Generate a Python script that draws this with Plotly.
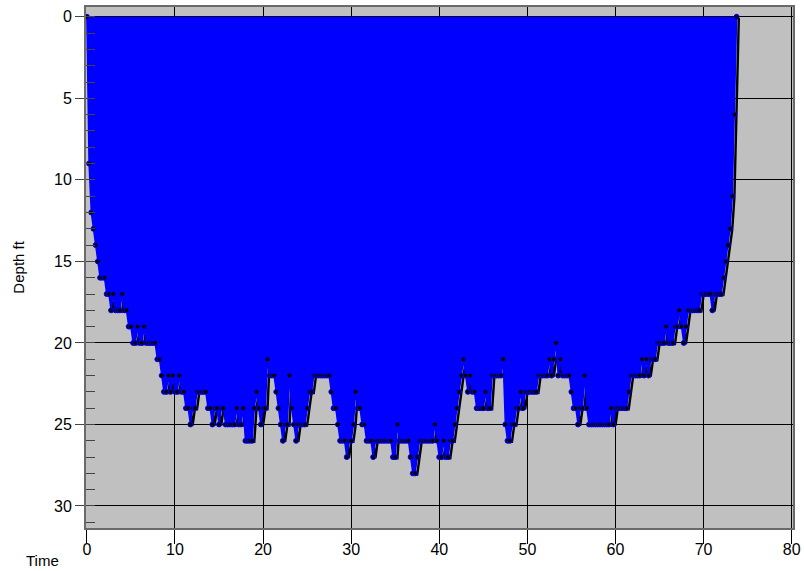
import plotly.graph_objects as go

START_MIN = 0.0
SAMPLE_INTERVAL_MIN = 0.25
depth_ft = [
    0, 9, 12, 13,
    14, 15, 16, 16,
    16, 17, 17, 18,
    17, 18, 18, 18,
    17, 18, 18, 19,
    19, 20, 20, 19,
    20, 20, 19, 20,
    20, 20, 20, 20,
    21, 21, 22, 23,
    23, 22, 23, 22,
    23, 23, 22, 23,
    23, 24, 24, 25,
    24, 24, 23, 23,
    23, 23, 23, 24,
    24, 25, 24, 24,
    25, 24, 24, 25,
    25, 25, 25, 25,
    24, 25, 25, 24,
    26, 26, 26, 26,
    24, 23, 24, 25,
    24, 24, 21, 22,
    22, 22, 23, 24,
    25, 26, 25, 25,
    22, 24, 25, 26,
    25, 25, 25, 25,
    24, 23, 23, 22,
    22, 22, 22, 22,
    22, 22, 22, 23,
    24, 24, 25, 26,
    26, 26, 27, 26,
    26, 25, 23, 24,
    24, 25, 25, 26,
    26, 26, 27, 26,
    26, 26, 26, 26,
    26, 26, 26, 27,
    27, 25, 26, 26,
    26, 26, 26, 27,
    28, 28, 27, 26,
    26, 26, 26, 26,
    26, 26, 25, 26,
    27, 27, 26, 27,
    27, 26, 26, 25,
    24, 23, 22, 21,
    22, 23, 22, 23,
    23, 24, 24, 24,
    24, 23, 24, 24,
    22, 22, 22, 22,
    22, 21, 25, 26,
    26, 25, 25, 24,
    24, 23, 24, 23,
    23, 23, 23, 23,
    23, 22, 22, 22,
    22, 22, 21, 22,
    21, 20, 22, 21,
    22, 22, 22, 22,
    23, 24, 24, 25,
    24, 24, 22, 24,
    25, 25, 25, 25,
    25, 25, 25, 25,
    25, 25, 24, 25,
    24, 24, 24, 24,
    24, 24, 23, 22,
    22, 22, 22, 22,
    21, 22, 21, 22,
    21, 21, 21, 20,
    20, 20, 20, 19,
    20, 20, 20, 19,
    19, 18, 19, 20,
    19, 18, 18, 18,
    18, 18, 18, 17,
    17, 17, 17, 17,
    18, 17, 17, 17,
    17, 16, 15, 14,
    13, 11, 6, 0,
]

x_tick_vals = [0, 10, 20, 30, 40, 50, 60, 70, 80]
y_tick_vals = [0, 5, 10, 15, 20, 25, 30]

X_RANGE = [-0.1, 80.15]
Y_RANGE = [31.35, -0.6]
SHADOW_DX = 0.25   # minutes (style offset of the drop shadow)
SHADOW_DY = 0.07   # feet   (style offset of the drop shadow)

BLUE = "#0000FF"
FONT = "Liberation Sans, Arial, sans-serif"

fig = go.Figure()

# black drop-shadow of the profile line
fig.add_trace(go.Scatter(
    y=[d + SHADOW_DY for d in depth_ft],
    x0=START_MIN + SHADOW_DX, dx=SAMPLE_INTERVAL_MIN,
    mode="lines", line=dict(color="black", width=2.4),
    hoverinfo="skip", showlegend=False,
))

# blue filled profile with sample markers
fig.add_trace(go.Scatter(
    y=depth_ft, x0=START_MIN, dx=SAMPLE_INTERVAL_MIN,
    mode="lines+markers",
    line=dict(color=BLUE, width=1.5),
    marker=dict(size=5, color="black", line=dict(color=BLUE, width=1)),
    fill="tozeroy", fillcolor=BLUE,
    showlegend=False,
))

fig.update_layout(
    width=804, height=571,
    margin=dict(l=86, r=11, t=7, b=43, autoexpand=False),
    paper_bgcolor="white",
    plot_bgcolor="#C0C0C0",
    font=dict(family=FONT, size=16, color="black"),
    showlegend=False,
    xaxis=dict(
        range=X_RANGE, tickvals=x_tick_vals,
        showgrid=True, gridcolor="black", gridwidth=1,
        zeroline=False,
        ticks="outside", ticklen=14, tickwidth=1, tickcolor="black",
        ticklabelstandoff=-8,
        showline=True, linecolor="#6a6a6a", linewidth=2, mirror=True,
        tickfont=dict(size=16, family=FONT, color="black"),
    ),
    yaxis=dict(
        range=Y_RANGE, tickvals=y_tick_vals,
        showgrid=True, gridcolor="black", gridwidth=1,
        zeroline=False,
        ticks="outside", ticklen=9, tickwidth=1, tickcolor="#444",
        minor=dict(dtick=1, tick0=0, ticks="inside", ticklen=9,
                   tickwidth=1, tickcolor="#444", showgrid=False),
        showline=True, linecolor="#6a6a6a", linewidth=2, mirror=True,
        tickfont=dict(size=16, family=FONT, color="black"),
    ),
    annotations=[
        dict(text="Depth ft", xref="paper", yref="paper",
             x=-0.096, y=0.5, textangle=-90, showarrow=False,
             xanchor="center", yanchor="middle",
             font=dict(size=15, family=FONT, color="black")),
        dict(text="Time", xref="paper", yref="paper",
             x=-0.061, y=-0.063, showarrow=False,
             xanchor="center", yanchor="middle",
             font=dict(size=15, family=FONT, color="black")),
    ],
)

fig.write_html(
    "out.html",
    config={"displayModeBar": False},
    post_script="document.body.style.margin='0';document.body.style.overflow='hidden';",
)
